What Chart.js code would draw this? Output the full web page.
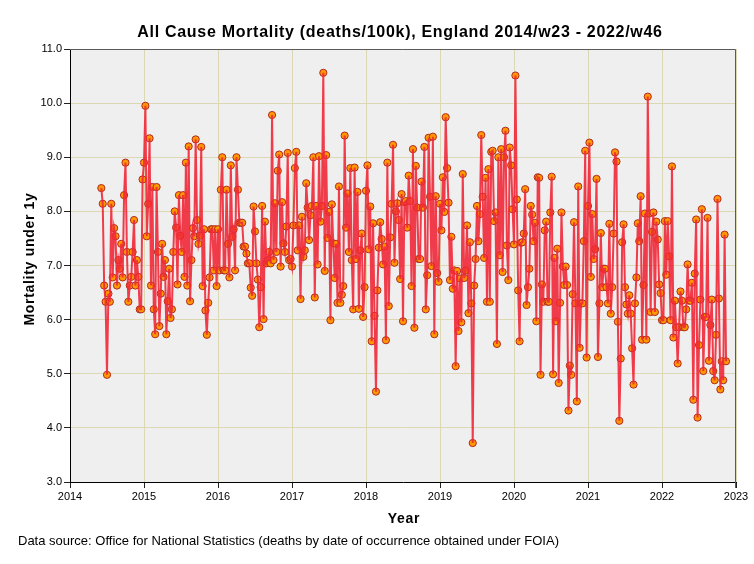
<!DOCTYPE html>
<html>
<head>
<meta charset="utf-8">
<title>All Cause Mortality, England</title>
<script src="https://cdn.jsdelivr.net/npm/chart.js@4.4.0/dist/chart.umd.min.js"></script>
<style>
  html, body { margin: 0; padding: 0; background: #ffffff; }
  #wrap { width: 754px; height: 564px; }
</style>
</head>
<body>
<div id="wrap"><canvas id="mortalityChart" width="754" height="564"></canvas></div>
<script>
// weekly mortality under 1y (deaths/100k), one array per year
const FIRST_WEEK = 23; // series starts at 2014/w23
const YEARS = [2014, 2015, 2016, 2017, 2018, 2019, 2020, 2021, 2022];
const WEEKS_IN_YEAR = [52, 53, 52, 52, 52, 52, 53, 52, 52];

const rate2014 = [8.43, 8.14, 6.63, 6.33, 4.98, 6.48, 6.33, 8.14, 6.78, 7.69, 7.54, 6.63, 7.1, 6.94, 7.4,
  6.78, 8.3, 8.9, 7.25, 6.33, 6.63, 6.79, 7.25, 7.84, 6.63, 7.1, 6.79, 6.19, 6.19, 8.59];
const rate2015 = [8.9, 9.95, 7.54, 8.14, 9.35, 6.63, 8.45, 6.19, 5.73, 8.45, 7.25, 5.88, 6.48, 7.4, 6.79,
  7.1, 5.73, 6.34, 6.94, 6.03, 6.19, 7.25, 8.0, 7.7, 6.65, 8.3, 7.55, 7.25, 8.3, 6.79, 8.9, 6.63, 9.2,
  6.34, 7.1, 7.69, 7.54, 9.33, 7.84, 7.4, 7.55, 9.19, 6.62, 7.67, 6.17, 5.72, 6.31, 6.78, 7.67, 7.67,
  6.91, 7.67, 6.62];
const rate2016 = [7.67, 6.91, 8.4, 9.0, 6.91, 6.91, 8.4, 7.4, 6.78, 8.85, 7.53, 7.67, 6.91, 9.0, 8.4,
  7.79, 7.79, 7.79, 7.35, 7.35, 7.22, 7.04, 7.04, 6.59, 6.44, 8.09, 7.63, 7.04, 6.74, 5.86, 6.6, 8.1,
  6.01, 7.81, 7.04, 7.1, 7.25, 7.04, 9.78, 7.1, 8.15, 7.25, 8.75, 9.05, 6.98, 8.17, 7.41, 7.25, 7.72,
  9.08, 7.1, 7.12];
const rate2017 = [6.98, 7.74, 8.8, 9.1, 7.28, 7.74, 6.38, 7.9, 7.16, 7.28, 8.52, 8.07, 7.47, 7.93, 8.1,
  9.0, 6.41, 8.1, 7.02, 9.02, 7.81, 8.1, 10.56, 6.9, 9.04, 7.51, 7.99, 5.99, 8.13, 7.41, 6.77, 7.4,
  6.31, 8.46, 6.31, 6.46, 6.62, 9.4, 7.7, 8.33, 7.25, 8.8, 7.1, 6.19, 8.81, 7.12, 8.36, 6.2, 7.28,
  7.59, 6.05, 6.6];
const rate2018 = [8.38, 8.85, 7.3, 8.09, 5.6, 7.78, 6.07, 4.67, 6.54, 7.33, 7.8, 7.49, 7.02, 7.35, 5.62,
  8.9, 6.25, 7.52, 8.14, 9.23, 7.05, 8.0, 8.15, 7.84, 6.75, 8.32, 5.97, 8.17, 8.19, 7.7, 8.66, 8.19,
  6.62, 9.15, 5.85, 8.84, 8.07, 7.12, 7.12, 8.55, 8.07, 9.19, 6.19, 6.82, 9.36, 8.27, 6.99, 9.38,
  5.73, 8.28, 6.86, 6.7];
const rate2019 = [8.14, 7.65, 8.63, 7.99, 9.74, 8.8, 8.16, 6.73, 7.53, 6.57, 6.91, 5.14, 6.9, 5.79, 6.76,
  5.95, 8.69, 6.77, 6.91, 7.74, 6.12, 7.43, 6.3, 3.72, 6.63, 7.12, 8.1, 7.45, 7.95, 9.41, 8.27, 7.14,
  8.62, 6.33, 8.78, 6.33, 9.1, 9.12, 7.82, 7.98, 5.55, 9.0, 7.19, 9.15, 6.88, 9.0, 9.49, 7.37, 6.73,
  9.18, 8.85, 8.04];
const rate2020 = [7.39, 10.51, 8.22, 6.54, 5.6, 7.42, 7.43, 7.59, 8.41, 6.27, 6.6, 6.94, 8.1, 7.94, 7.45,
  7.79, 5.97, 8.63, 8.62, 4.98, 6.65, 6.33, 7.65, 7.81, 6.33, 6.33, 7.98, 8.64, 4.99, 7.14, 5.97, 7.31,
  4.83, 6.31, 7.98, 6.98, 6.64, 6.98, 6.64, 4.32, 5.15, 4.98, 6.47, 7.8, 6.3, 4.49, 8.46, 5.48, 6.3,
  6.3, 7.45, 9.12, 5.3];
const rate2021 = [8.1, 9.27, 6.79, 7.95, 7.12, 7.3, 8.6, 5.31, 6.3, 7.6, 6.6, 6.94, 6.94, 6.6, 6.3,
  7.77, 6.11, 6.6, 7.59, 9.09, 8.92, 5.96, 4.13, 5.28, 7.43, 7.76, 6.6, 6.28, 6.11, 6.45, 6.11, 5.47,
  4.8, 6.3, 6.78, 7.78, 7.45, 8.28, 5.63, 6.64, 7.96, 5.63, 10.12, 7.96, 6.14, 7.62, 7.98, 6.14, 7.81,
  7.48, 6.65, 6.49];
const rate2022 = [5.99, 5.99, 7.82, 6.83, 7.82, 7.17, 5.99, 8.83, 5.67, 6.35, 5.86, 5.19, 5.86, 6.52,
  6.35, 5.86, 5.86, 6.19, 7.02, 6.35, 6.35, 6.68, 4.52, 6.85, 7.85, 4.19, 5.53, 6.37, 8.04, 5.05, 6.05,
  6.05, 7.88, 5.24, 5.9, 6.37, 5.05, 4.88, 5.72, 8.23, 6.39, 4.71, 5.23, 4.88, 7.57, 5.23];

const RATES_BY_YEAR = [rate2014, rate2015, rate2016, rate2017, rate2018, rate2019, rate2020, rate2021, rate2022];

const X_TICKS = [2014, 2015, 2016, 2017, 2018, 2019, 2020, 2021, 2022, 2023];
const Y_TICKS = [3, 4, 5, 6, 7, 8, 9, 10, 11];

const FONT = "'Liberation Sans', Arial, Helvetica, sans-serif";

// turn year/week into points on a decimal year axis
function buildPoints() {
    const points = [];
    YEARS.forEach((year, i) => {
        const startWeek = i === 0 ? FIRST_WEEK : 1;
        RATES_BY_YEAR[i].forEach((value, k) => {
            const week = startWeek + k;
            points.push({ x: year + (week - 1) / WEEKS_IN_YEAR[i], y: value });
        });
    });
    return points;
}

// plot background, frame and all the text around the plot
const chartDecor = {
    id: 'chartDecor',
    beforeDraw(chart) {
        const { ctx, chartArea: a } = chart;
        ctx.save();
        ctx.fillStyle = '#ffffff';
        ctx.fillRect(0, 0, chart.width, chart.height);
        ctx.fillStyle = '#efefef';
        ctx.fillRect(a.left, a.top, a.right - a.left, a.bottom - a.top);
        ctx.restore();
    },
    afterDraw(chart) {
        const { ctx, chartArea: a } = chart;
        ctx.save();

        // top and right frame
        ctx.strokeStyle = '#5a5a5a';
        ctx.lineWidth = 1;
        ctx.beginPath();
        ctx.moveTo(a.left, a.top + 0.5);
        ctx.lineTo(a.right - 0.5, a.top + 0.5);
        ctx.lineTo(a.right - 0.5, a.bottom + 6);
        ctx.stroke();

        ctx.fillStyle = '#000000';
        ctx.textAlign = 'center';
        ctx.textBaseline = 'alphabetic';
        ctx.letterSpacing = '0.7px';
        ctx.font = 'bold 16px ' + FONT;
        ctx.fillText('All Cause Mortality (deaths/100k), England 2014/w23 - 2022/w46', 400, 37);

        ctx.font = 'bold 14px ' + FONT;
        ctx.textBaseline = 'middle';
        ctx.fillText('Year', 404, 519);

        ctx.save();
        ctx.translate(34, 259);
        ctx.rotate(-Math.PI / 2);
        ctx.textBaseline = 'alphabetic';
        ctx.fillText('Mortality under 1y', 0, 0);
        ctx.restore();

        ctx.letterSpacing = '0px';
        ctx.font = '13px ' + FONT;
        ctx.textAlign = 'left';
        ctx.textBaseline = 'middle';
        ctx.fillText('Data source: Office for National Statistics (deaths by date of occurrence obtained under FOIA)', 18, 541);

        ctx.restore();
    }
};

function renderMortalityChart() {
    const ctx = document.getElementById('mortalityChart').getContext('2d');
    const points = buildPoints();

    new Chart(ctx, {
        type: 'line',
        data: {
            datasets: [
                {
                    label: 'line',
                    data: points,
                    order: 0,
                    borderColor: 'rgba(240, 40, 55, 0.9)',
                    borderWidth: 2,
                    pointRadius: 0,
                    tension: 0,
                    fill: false
                },
                {
                    label: 'points',
                    data: points,
                    order: 1,
                    showLine: false,
                    pointRadius: 3.6,
                    pointBackgroundColor: '#ff9800',
                    pointBorderColor: '#b22a22',
                    pointBorderWidth: 1
                }
            ]
        },
        options: {
            responsive: false,
            animation: false,
            layout: { padding: { top: 49, right: 18, bottom: 0, left: 0 } },
            scales: {
                x: {
                    type: 'linear',
                    min: 2014,
                    max: 2023,
                    afterFit: (scale) => { scale.height = 82; },
                    afterBuildTicks: (scale) => { scale.ticks = X_TICKS.map(v => ({ value: v })); },
                    ticks: {
                        color: '#000000',
                        font: { family: FONT, size: 11 },
                        padding: 2,
                        maxRotation: 0,
                        autoSkip: false,
                        callback: (v) => String(v)
                    },
                    grid: { color: '#dcd8b4', tickColor: '#222222', tickLength: 6, lineWidth: 1 },
                    border: { color: '#000000', width: 1 }
                },
                y: {
                    min: 3,
                    max: 11,
                    afterFit: (scale) => { scale.width = 70; },
                    afterBuildTicks: (scale) => { scale.ticks = Y_TICKS.map(v => ({ value: v })); },
                    ticks: {
                        color: '#000000',
                        font: { family: FONT, size: 11 },
                        padding: 2,
                        autoSkip: false,
                        callback: (v) => Number(v).toFixed(1)
                    },
                    grid: { color: '#dcd8b4', tickColor: '#222222', tickLength: 6, lineWidth: 1 },
                    border: { color: '#000000', width: 1 }
                }
            },
            plugins: {
                legend: { display: false },
                title: { display: false },
                tooltip: { enabled: false }
            }
        },
        plugins: [chartDecor]
    });
}

document.addEventListener('DOMContentLoaded', renderMortalityChart);
</script>
</body>
</html>
